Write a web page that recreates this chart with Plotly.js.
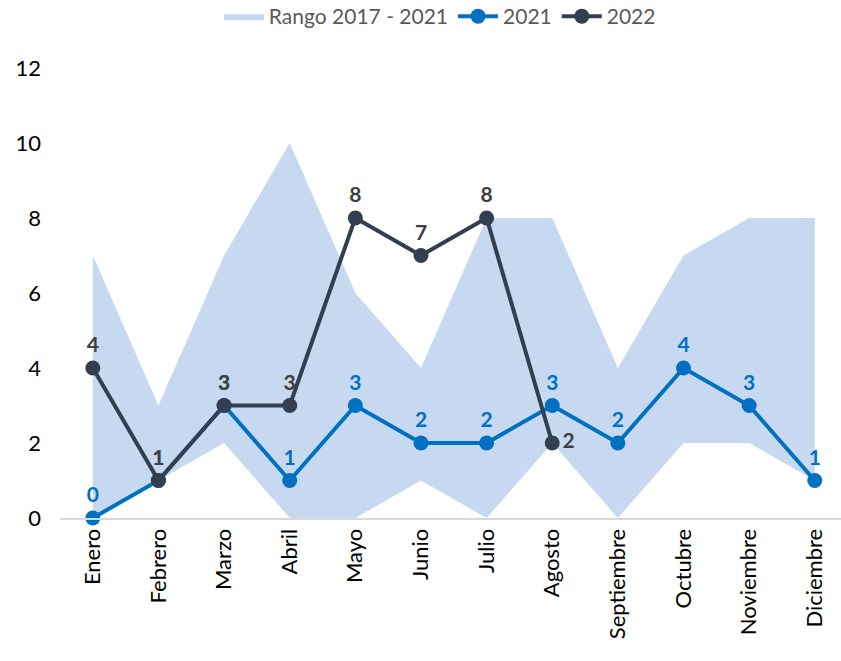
<!DOCTYPE html>
<html>
<head>
<meta charset="utf-8">
<script src="https://cdn.plot.ly/plotly-3.0.1.min.js"></script>
<style>html,body{margin:0;padding:0;background:#fff;}#chart{width:841px;height:661px;}</style>
</head>
<body>
<div id="chart"></div>
<script>
const months = ["Enero","Febrero","Marzo","Abril","Mayo","Junio","Julio","Agosto","Septiembre","Octubre","Noviembre","Diciembre"];
const rangoMin = [0,1,2,0,0,1,0,2,0,2,2,1];
const rangoMax = [7,3,7,10,6,4,8,8,4,7,8,8];
const v2021 = [0,1,3,1,3,2,2,3,2,4,3,1];
const v2022 = [4,1,3,3,8,7,8,2];
const months2022 = months.slice(0, v2022.length);

const FONT = "Lato, 'Open Sans', sans-serif";
const pos2022 = v2022.map((v,i) => i === v2022.length-1 ? "middle right" : "top center");

const traces = [
  {x: months, y: rangoMin, type: "scatter", mode: "lines", line: {width: 0, color: "rgba(0,0,0,0)"},
   showlegend: false, hoverinfo: "skip"},
  {x: months, y: rangoMax, type: "scatter", mode: "lines", name: "Rango 2017 - 2021",
   fill: "tonexty", fillcolor: "#c6d9f0", line: {width: 0, color: "#c6d9f0"}},
  {x: months, y: v2021, type: "scatter", mode: "lines+markers+text", name: "2021",
   line: {color: "#0070c0", width: 4}, marker: {color: "#0070c0", size: 15},
   text: v2021.map(String), textposition: "top center",
   textfont: {family: FONT, size: 21, color: "#0070c0", weight: "bold"}, cliponaxis: false},
  {x: months2022, y: v2022, type: "scatter", mode: "lines+markers+text", name: "2022",
   line: {color: "#333f50", width: 4}, marker: {color: "#333f50", size: 15},
   text: v2022.map(String), textposition: pos2022,
   textfont: {family: FONT, size: 21, color: "#404040", weight: "bold"}, cliponaxis: false}
];

const layout = {
  width: 841, height: 661,
  margin: {l: 60, r: 0, t: 68, b: 143},
  paper_bgcolor: "#fff", plot_bgcolor: "#fff",
  font: {family: FONT, size: 22, color: "#000"},
  showlegend: true,
  legend: {orientation: "h", x: 0.523, xref: "container", xanchor: "center", y: 0.975, yref: "container", yanchor: "middle",
           font: {family: FONT, size: 21, color: "#595959"}, traceorder: "normal", itemwidth: 40},
  xaxis: {type: "category", range: [-0.5, 11.4], showgrid: false, zeroline: false,
          showline: true, linecolor: "#d9d9d9", linewidth: 2, tickangle: -90,
          tickfont: {family: FONT, size: 22, color: "#000"}, ticks: "", fixedrange: true},
  yaxis: {range: [0, 12], dtick: 2, showgrid: false, zeroline: false, showline: false,
          tickfont: {family: FONT, size: 22, color: "#000"}, ticklabelstandoff: 18, fixedrange: true}
};

Plotly.newPlot("chart", traces, layout, {displayModeBar: false, staticPlot: true});
</script>
</body>
</html>
